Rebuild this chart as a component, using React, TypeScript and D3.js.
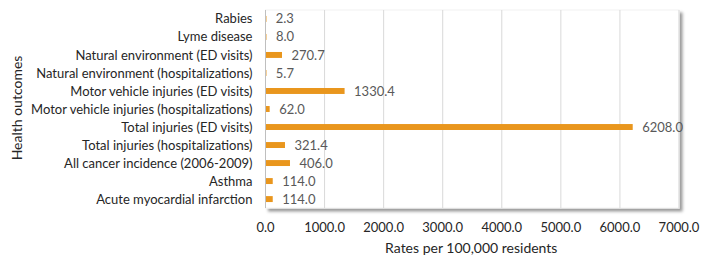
import React from "react";
import * as d3 from "d3";

const WIDTH = 712;
const HEIGHT = 260;
const MARGIN = { top: 10, right: 33, bottom: 52, left: 265.5 };

const categories = [
  "Rabies",
  "Lyme disease",
  "Natural environment (ED visits)",
  "Natural environment (hospitalizations)",
  "Motor vehicle injuries (ED visits)",
  "Motor vehicle injuries (hospitalizations)",
  "Total injuries (ED visits)",
  "Total injuries (hospitalizations)",
  "All cancer incidence (2006-2009)",
  "Asthma",
  "Acute myocardial infarction",
];
const rates = [2.3, 8.0, 270.7, 5.7, 1330.4, 62.0, 6208.0, 321.4, 406.0, 114.0, 114.0];
const xTicks = [0, 1000, 2000, 3000, 4000, 5000, 6000, 7000];

const FONT = "Lato, 'Open Sans', sans-serif";
const BAR_COLOR = "#E9961D";

export default function App() {
  const boundsWidth = WIDTH - MARGIN.left - MARGIN.right;
  const boundsHeight = HEIGHT - MARGIN.top - MARGIN.bottom;

  const xScale = d3.scaleLinear().domain([0, 7000]).range([0, boundsWidth]);
  const yScale = d3
    .scaleBand()
    .domain(categories)
    .range([0, boundsHeight])
    .paddingInner(0.67)
    .paddingOuter(0.33);

  return (
    <svg
      width={WIDTH}
      height={HEIGHT}
      style={{ position: "absolute", left: 0, top: 0, fontFamily: FONT }}
    >
      <defs>
        <filter id="shadow" x="-5%" y="-5%" width="115%" height="120%">
          <feDropShadow dx="3" dy="3" stdDeviation="1.6" floodColor="#000" floodOpacity="0.4" />
        </filter>
      </defs>
      <g transform={`translate(${MARGIN.left},${MARGIN.top})`}>
        {/* plot area with shadow */}
        <rect
          x={0}
          y={0}
          width={boundsWidth}
          height={boundsHeight}
          fill="#fff"
          stroke="#f2f2f2"
          filter="url(#shadow)"
        />
        {xTicks.map((t) => (
          <line
            key={t}
            x1={xScale(t)}
            x2={xScale(t)}
            y1={0}
            y2={boundsHeight}
            stroke="#d9d9d9"
            strokeWidth={1}
          />
        ))}
        <line x1={0} x2={0} y1={0} y2={boundsHeight} stroke="#bfbfbf" />

        {categories.map((c, i) => {
          const y = yScale(c) as number;
          const bw = yScale.bandwidth();
          const w = xScale(rates[i]);
          return (
            <g key={c}>
              <rect x={0.5} y={y} width={Math.max(w, 1)} height={bw} fill={BAR_COLOR} opacity={w < 1.5 ? 0.45 : 1} />
              <text
                x={w + 10}
                y={y + bw / 2}
                dy="0.35em"
                fontSize={13}
                fill="#595959"
              >
                {rates[i].toFixed(1)}
              </text>
              <text
                x={-13}
                y={y + bw / 2}
                dy="0.35em"
                textAnchor="end"
                fontSize={13}
                fill="#262626"
              >
                {c}
              </text>
            </g>
          );
        })}

        {xTicks.map((t) => (
          <text
            key={t}
            x={xScale(t)}
            y={boundsHeight + 19}
            dy="0.35em"
            textAnchor="middle"
            fontSize={13}
            fill="#262626"
          >
            {t.toFixed(1)}
          </text>
        ))}

        <text
          x={boundsWidth / 2 - 1}
          y={boundsHeight + 40}
          dy="0.35em"
          textAnchor="middle"
          fontSize={14}
          fill="#262626"
        >
          Rates per 100,000 residents
        </text>
      </g>
      <text
        transform={`translate(17,${108}) rotate(-90)`}
        dy="0.35em"
        textAnchor="middle"
        fontSize={14}
        fill="#262626"
      >
        Health outcomes
      </text>
    </svg>
  );
}
